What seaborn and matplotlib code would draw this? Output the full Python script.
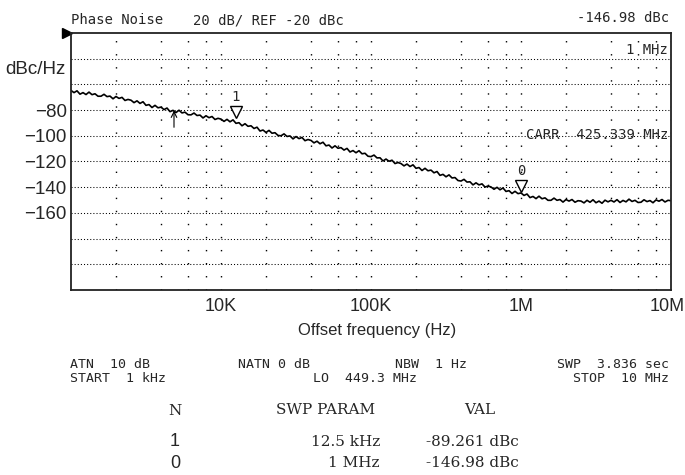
import numpy as np
import pandas as pd
import matplotlib
matplotlib.use("Agg")
import matplotlib.pyplot as plt
import seaborn as sns
from matplotlib import font_manager
from matplotlib.ticker import FixedLocator, FixedFormatter, NullFormatter
from matplotlib.transforms import ScaledTranslation

# phase noise trace (dBc/Hz), 50 points per decade
trace_dbc = [
    -64.7, -66.4, -65.0, -67.6, -66.4, -67.9, -66.0, -68.0, -67.3, -69.2,
    -69.2, -67.7, -69.5, -69.1, -71.2, -69.4, -70.9, -70.1, -72.5, -71.7,
    -72.3, -74.2, -72.8, -74.8, -73.5, -76.3, -75.7, -78.0, -76.3, -78.2,
    -77.7, -79.6, -78.4, -81.2, -80.2, -81.9, -80.1, -82.2, -81.6, -83.6,
    -83.7, -82.3, -84.2, -83.9, -86.1, -84.4, -85.9, -85.0, -87.3, -86.4,
    -87.0, -88.8, -87.2, -89.1, -87.6, -90.3, -89.8, -92.2, -90.6, -92.6,
    -92.2, -94.3, -93.3, -96.3, -95.5, -97.4, -95.8, -98.0, -97.6, -99.7,
    -100.0, -98.5, -100.5, -100.1, -102.4, -100.6, -102.2, -101.3, -103.8, -102.9,
    -103.6, -105.5, -104.2, -106.2, -105.0, -107.8, -107.2, -109.5, -107.8, -109.7,
    -109.2, -111.1, -109.8, -112.6, -111.5, -113.2, -111.6, -114.0, -113.6, -115.9,
    -116.2, -115.0, -117.2, -117.1, -119.6, -118.1, -119.8, -119.0, -121.6, -120.8,
    -121.6, -123.4, -122.0, -123.9, -122.6, -125.3, -124.7, -127.0, -125.3, -127.2,
    -126.7, -128.8, -127.8, -130.8, -130.0, -131.9, -130.4, -132.8, -132.5, -134.8,
    -135.2, -133.9, -136.0, -135.8, -138.2, -136.6, -138.2, -137.4, -139.9, -139.1,
    -139.8, -141.6, -140.1, -142.0, -140.6, -143.3, -142.7, -144.9, -143.2, -145.0,
    -144.5, -146.4, -145.3, -148.1, -147.2, -148.9, -147.0, -149.0, -148.3, -150.2,
    -150.2, -148.5, -150.2, -149.6, -151.6, -149.6, -150.8, -149.6, -151.7, -150.5,
    -150.8, -152.2, -150.2, -151.7, -149.8, -152.1, -150.8, -152.5, -150.1, -151.4,
    -150.2, -151.5, -149.7, -151.9, -150.3, -151.4, -149.3, -151.1, -150.2, -151.9,
    -151.7, -149.8, -151.2, -150.4, -152.1, -149.9, -150.9, -149.6, -151.5, -150.2,
    -150.5,
]
sweep_start_hz = 1e3
sweep_stop_hz = 1e7

marker_ids = ["1", "0"]
marker_freqs = [12.5e3, 1e6]
marker_vals = [-89.261, -146.98]
marker_param_text = ["12.5 kHz", "1 MHz"]
marker_val_text = ["-89.261 dBc", "-146.98 dBc"]

arrow_freq = 4.86e3
arrow_val = -80.4

ref_level = -20
db_per_div = 20
n_div = 10

ytick_vals = [-80, -100, -120, -140, -160]
xtick_vals = [1e4, 1e5, 1e6, 1e7]
xtick_labels = ["10K", "100K", "1M", "10M"]

W, H = 685, 475


def fx(px):
    return px / W


def fy(py):
    return 1 - py / H


sns.set_style("white")
available = {f.name for f in font_manager.fontManager.ttflist}
if "Liberation Sans Narrow" in available:
    sans, ysize, xsize = "Liberation Sans Narrow", 15, 15
else:
    sans, ysize, xsize = "Liberation Sans", 13.5, 13
mono = "DejaVu Sans Mono"
serif = "DejaVu Serif"
plt.rcParams["font.family"] = [sans, "DejaVu Sans"]

df = pd.DataFrame({
    "freq": np.geomspace(sweep_start_hz, sweep_stop_hz, len(trace_dbc)),
    "dbc": trace_dbc,
})

fig = plt.figure(figsize=(W / 100, H / 100), dpi=100)
ax = fig.add_axes([fx(71), fy(290), (671 - 71) / W, (290 - 33) / H])

sns.lineplot(data=df, x="freq", y="dbc", ax=ax, color="black", linewidth=1.2)

ax.set_xscale("log")
ax.set_xlim(sweep_start_hz, sweep_stop_hz)
ax.set_ylim(ref_level - db_per_div * n_div, ref_level)

# grid: 2-4-6-8 per decade, 20 dB per division
grid_x = [m * 10 ** e for e in range(3, 7) for m in (2, 4, 6, 8)]
ax.xaxis.set_major_locator(FixedLocator(xtick_vals))
ax.xaxis.set_major_formatter(FixedFormatter(xtick_labels))
ax.xaxis.set_minor_locator(FixedLocator(grid_x))
ax.xaxis.set_minor_formatter(NullFormatter())
ax.yaxis.set_major_locator(FixedLocator(ytick_vals))
ax.yaxis.set_minor_locator(FixedLocator(np.arange(ref_level - db_per_div * (n_div - 1), ref_level, db_per_div)))
ax.yaxis.set_minor_formatter(NullFormatter())

ax.grid(True, axis="y", which="both", color="black", linewidth=0.75, linestyle=(0, (1, 2)))
ax.grid(True, axis="x", which="both", color="black", linewidth=1.0, linestyle=(0, (1, 8.4)))
ax.tick_params(which="both", length=0)
ax.tick_params(axis="x", pad=6, labelsize=xsize)
ax.tick_params(axis="y", pad=3, labelsize=ysize)
for s in ax.spines.values():
    s.set_color("#222222")
    s.set_linewidth(1.3)

# last x label sits at the figure edge, nudge it in a little
last = ax.xaxis.get_major_ticks()[-1].label1
last.set_transform(last.get_transform() + ScaledTranslation(-4 / 100, 0, fig.dpi_scale_trans))

ax.set_xlabel("Offset frequency (Hz)", fontsize=12)
ax.xaxis.set_label_coords((377 - 71) / 600, -0.13)
ax.set_ylabel("")

# reference level pointer
ax.plot([0], [1], marker=">", color="black", ms=7, clip_on=False,
        transform=ax.transAxes + ScaledTranslation(-4.5 / 100, 0, fig.dpi_scale_trans))

# markers
up = ScaledTranslation(0, 7 / 72, fig.dpi_scale_trans)
for mid, f, v in zip(marker_ids, marker_freqs, marker_vals):
    ax.plot([f], [v], marker="v", ms=9, mfc="white", mec="black", mew=1,
            transform=ax.transData + up, clip_on=False)
    ax.annotate(mid, (f, v), xytext=(0, 18), textcoords="offset points",
                ha="center", va="center", family=mono, fontsize=10)

ax.annotate("", xy=(arrow_freq, arrow_val), xytext=(0, -12), textcoords="offset points",
            arrowprops=dict(arrowstyle="->", color="black", lw=0.8, shrinkA=0, shrinkB=0))

ax.text(0.995, 0.934, "1 MHz", transform=ax.transAxes, ha="right", va="center",
        family=mono, fontsize=10)
ax.text(0.995, 0.603, "CARR  425.339 MHz", transform=ax.transAxes, ha="right", va="center",
        family=mono, fontsize=10)

# header
fig.text(fx(71), fy(20), "Phase Noise", family=mono, fontsize=10, va="center")
fig.text(fx(193), fy(20), f"{db_per_div} dB/ REF {ref_level} dBc", family=mono, fontsize=10, va="center")
fig.text(fx(669), fy(18), f"{marker_vals[1]} dBc", family=mono, fontsize=10, va="center", ha="right")
fig.text(fx(5), fy(70), "dBc/Hz", fontsize=ysize, va="center", ha="left")

# settings block
settings = [
    ("ATN  10 dB", 70, 364, "left"),
    ("START  1 kHz", 70, 378, "left"),
    ("NATN 0 dB", 238, 364, "left"),
    ("LO  449.3 MHz", 313, 378, "left"),
    ("NBW  1 Hz", 395, 364, "left"),
    ("SWP  3.836 sec", 669, 364, "right"),
    ("STOP  10 MHz", 669, 378, "right"),
]
for txt, x, y, ha in settings:
    fig.text(fx(x), fy(y), txt, family=mono, fontsize=9.5, va="center", ha=ha)

# marker table
fig.text(fx(175), fy(411), "N", family=serif, fontsize=11, va="center", ha="center")
fig.text(fx(326), fy(410), "SWP PARAM", family=serif, fontsize=11, va="center", ha="center")
fig.text(fx(480), fy(410), "VAL", family=serif, fontsize=11, va="center", ha="center")
for y, mid, ptxt, vtxt in zip([442, 463], marker_ids, marker_param_text, marker_val_text):
    fig.text(fx(175), fy(y), mid, fontsize=13, va="center", ha="center")
    fig.text(fx(380), fy(y), ptxt, family=serif, fontsize=11, va="center", ha="right")
    fig.text(fx(472), fy(y), vtxt, family=serif, fontsize=11, va="center", ha="center")

fig.savefig("out.png", dpi=100, facecolor="white")
plt.close(fig)
